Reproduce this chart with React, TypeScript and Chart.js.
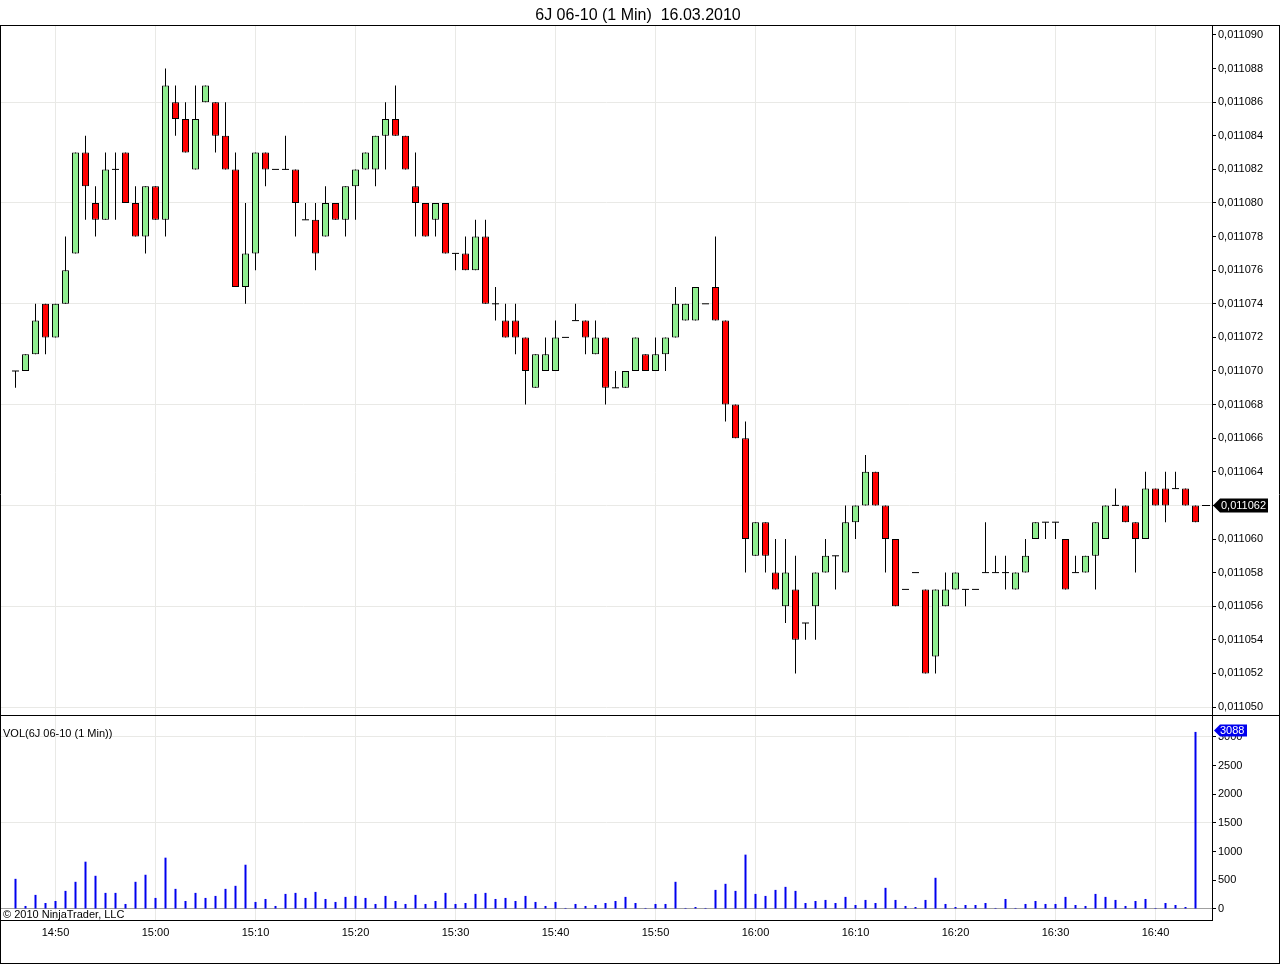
import React, { useEffect, useRef } from 'react';
import { Chart, registerables } from 'chart.js';

Chart.register(...registerables);

const FONT = '"Liberation Sans", Arial, sans-serif';

const chartTitle = '6J 06-10 (1 Min)  16.03.2010';
const volumeTitle = 'VOL(6J 06-10 (1 Min))';
const copyrightText = '\u00A9 2010 NinjaTrader, LLC';

const times = [
  '14:46', '14:47', '14:48', '14:49', '14:50', '14:51', '14:52', '14:53', '14:54', '14:55', '14:56', '14:57', '14:58', '14:59',
  '15:00', '15:01', '15:02', '15:03', '15:04', '15:05', '15:06', '15:07', '15:08', '15:09',
  '15:10', '15:11', '15:12', '15:13', '15:14', '15:15', '15:16', '15:17', '15:18', '15:19',
  '15:20', '15:21', '15:22', '15:23', '15:24', '15:25', '15:26', '15:27', '15:28', '15:29',
  '15:30', '15:31', '15:32', '15:33', '15:34', '15:35', '15:36', '15:37', '15:38', '15:39',
  '15:40', '15:41', '15:42', '15:43', '15:44', '15:45', '15:46', '15:47', '15:48', '15:49',
  '15:50', '15:51', '15:52', '15:53', '15:54', '15:55', '15:56', '15:57', '15:58', '15:59',
  '16:00', '16:01', '16:02', '16:03', '16:04', '16:05', '16:06', '16:07', '16:08', '16:09',
  '16:10', '16:11', '16:12', '16:13', '16:14', '16:15', '16:16', '16:17', '16:18', '16:19',
  '16:20', '16:21', '16:22', '16:23', '16:24', '16:25', '16:26', '16:27', '16:28', '16:29',
  '16:30', '16:31', '16:32', '16:33', '16:34', '16:35', '16:36', '16:37', '16:38', '16:39',
  '16:40', '16:41', '16:42', '16:43', '16:44',
];

const opens = [
  0.011070, 0.011070, 0.011071, 0.011074, 0.011072, 0.011074, 0.011077, 0.011083, 0.011080, 0.011079,
  0.011082, 0.011083, 0.011080, 0.011078, 0.011081, 0.011079, 0.011086, 0.011085, 0.011082, 0.011086,
  0.011086, 0.011084, 0.011082, 0.011075, 0.011077, 0.011083, 0.011082, 0.011082, 0.011082, 0.011079,
  0.011079, 0.011078, 0.011080, 0.011079, 0.011081, 0.011082, 0.011082, 0.011084, 0.011085, 0.011084,
  0.011081, 0.011080, 0.011079, 0.011080, 0.011077, 0.011077, 0.011076, 0.011078, 0.011074, 0.011073,
  0.011073, 0.011072, 0.011069, 0.011070, 0.011070, 0.011072, 0.011073, 0.011073, 0.011071, 0.011072,
  0.011069, 0.011069, 0.011070, 0.011071, 0.011070, 0.011071, 0.011072, 0.011073, 0.011073, 0.011074,
  0.011075, 0.011073, 0.011068, 0.011066, 0.011059, 0.011061, 0.011058, 0.011056, 0.011057, 0.011055,
  0.011056, 0.011058, 0.011059, 0.011058, 0.011061, 0.011062, 0.011064, 0.011062, 0.011060, 0.011057,
  0.011058, 0.011057, 0.011053, 0.011056, 0.011057, 0.011057, 0.011057, 0.011058, 0.011058, 0.011058,
  0.011057, 0.011058, 0.011060, 0.011061, 0.011061, 0.011060, 0.011058, 0.011058, 0.011059, 0.011060,
  0.011062, 0.011062, 0.011061, 0.011060, 0.011063, 0.011063, 0.011063, 0.011063, 0.011062,
];

const highs = [
  0.011070, 0.011071, 0.011074, 0.011074, 0.011074, 0.011078, 0.011083, 0.011084, 0.011081, 0.011083,
  0.011083, 0.011083, 0.011081, 0.011081, 0.011081, 0.011088, 0.011087, 0.011086, 0.011087, 0.011087,
  0.011086, 0.011086, 0.011083, 0.011080, 0.011083, 0.011083, 0.011082, 0.011084, 0.011082, 0.011080,
  0.011080, 0.011081, 0.011080, 0.011081, 0.011082, 0.011083, 0.011084, 0.011086, 0.011087, 0.011084,
  0.011083, 0.011080, 0.011080, 0.011080, 0.011077, 0.011078, 0.011079, 0.011079, 0.011075, 0.011074,
  0.011074, 0.011072, 0.011071, 0.011072, 0.011073, 0.011072, 0.011074, 0.011073, 0.011073, 0.011072,
  0.011070, 0.011070, 0.011072, 0.011071, 0.011072, 0.011072, 0.011075, 0.011074, 0.011075, 0.011074,
  0.011078, 0.011073, 0.011068, 0.011067, 0.011061, 0.011061, 0.011060, 0.011060, 0.011059, 0.011055,
  0.011058, 0.011060, 0.011059, 0.011062, 0.011062, 0.011065, 0.011064, 0.011062, 0.011060, 0.011057,
  0.011058, 0.011057, 0.011057, 0.011058, 0.011058, 0.011057, 0.011057, 0.011061, 0.011059, 0.011059,
  0.011058, 0.011060, 0.011061, 0.011061, 0.011061, 0.011060, 0.011059, 0.011059, 0.011061, 0.011062,
  0.011063, 0.011062, 0.011061, 0.011064, 0.011063, 0.011064, 0.011064, 0.011063, 0.011062,
];

const lows = [
  0.011069, 0.011070, 0.011071, 0.011071, 0.011072, 0.011074, 0.011077, 0.011079, 0.011078, 0.011079,
  0.011079, 0.011080, 0.011078, 0.011077, 0.011079, 0.011078, 0.011084, 0.011083, 0.011082, 0.011086,
  0.011083, 0.011082, 0.011075, 0.011074, 0.011076, 0.011081, 0.011082, 0.011082, 0.011078, 0.011079,
  0.011076, 0.011078, 0.011079, 0.011078, 0.011079, 0.011082, 0.011081, 0.011082, 0.011084, 0.011082,
  0.011078, 0.011078, 0.011078, 0.011077, 0.011076, 0.011076, 0.011076, 0.011074, 0.011073, 0.011072,
  0.011071, 0.011068, 0.011069, 0.011070, 0.011070, 0.011072, 0.011073, 0.011071, 0.011071, 0.011068,
  0.011069, 0.011069, 0.011070, 0.011070, 0.011070, 0.011070, 0.011072, 0.011073, 0.011073, 0.011074,
  0.011073, 0.011067, 0.011066, 0.011058, 0.011059, 0.011058, 0.011057, 0.011055, 0.011052, 0.011054,
  0.011054, 0.011058, 0.011057, 0.011058, 0.011060, 0.011062, 0.011062, 0.011058, 0.011056, 0.011057,
  0.011058, 0.011052, 0.011052, 0.011056, 0.011057, 0.011056, 0.011057, 0.011058, 0.011058, 0.011057,
  0.011057, 0.011058, 0.011060, 0.011060, 0.011060, 0.011057, 0.011058, 0.011058, 0.011057, 0.011060,
  0.011062, 0.011061, 0.011058, 0.011060, 0.011062, 0.011061, 0.011063, 0.011062, 0.011061,
];

const closes = [
  0.011070, 0.011071, 0.011073, 0.011072, 0.011074, 0.011076, 0.011083, 0.011081, 0.011079, 0.011082,
  0.011082, 0.011080, 0.011078, 0.011081, 0.011079, 0.011087, 0.011085, 0.011083, 0.011085, 0.011087,
  0.011084, 0.011082, 0.011075, 0.011077, 0.011083, 0.011082, 0.011082, 0.011082, 0.011080, 0.011079,
  0.011077, 0.011080, 0.011079, 0.011081, 0.011082, 0.011083, 0.011084, 0.011085, 0.011084, 0.011082,
  0.011080, 0.011078, 0.011080, 0.011077, 0.011077, 0.011076, 0.011078, 0.011074, 0.011074, 0.011072,
  0.011072, 0.011070, 0.011071, 0.011071, 0.011072, 0.011072, 0.011073, 0.011072, 0.011072, 0.011069,
  0.011069, 0.011070, 0.011072, 0.011070, 0.011071, 0.011072, 0.011074, 0.011074, 0.011075, 0.011074,
  0.011073, 0.011068, 0.011066, 0.011060, 0.011061, 0.011059, 0.011057, 0.011058, 0.011054, 0.011055,
  0.011058, 0.011059, 0.011059, 0.011061, 0.011062, 0.011064, 0.011062, 0.011060, 0.011056, 0.011057,
  0.011058, 0.011052, 0.011057, 0.011057, 0.011058, 0.011057, 0.011057, 0.011058, 0.011058, 0.011058,
  0.011058, 0.011059, 0.011061, 0.011061, 0.011061, 0.011057, 0.011058, 0.011059, 0.011061, 0.011062,
  0.011062, 0.011061, 0.011060, 0.011063, 0.011062, 0.011062, 0.011063, 0.011062, 0.011061,
];

const volumes = [
  526, 53, 246, 105, 140, 316, 474, 825, 579, 281,
  281, 88, 474, 597, 193, 895, 351, 140, 281, 193,
  228, 351, 404, 772, 123, 175, 53, 263, 281, 193,
  298, 175, 123, 211, 228, 193, 88, 228, 140, 88,
  246, 88, 140, 281, 88, 105, 263, 281, 175, 193,
  140, 228, 123, 53, 123, 18, 88, 53, 70, 105,
  140, 211, 105, 18, 88, 88, 474, 18, 35, 18,
  333, 439, 316, 948, 263, 228, 333, 386, 316, 105,
  140, 158, 105, 211, 70, 158, 105, 369, 158, 53,
  35, 158, 544, 88, 35, 70, 70, 105, 18, 175,
  18, 88, 140, 88, 88, 211, 70, 53, 263, 211,
  158, 53, 140, 175, 18, 105, 70, 35, 3088,
];

const timeTicks = ['14:50', '15:00', '15:10', '15:20', '15:30', '15:40', '15:50', '16:00', '16:10', '16:20', '16:30', '16:40'];

const priceTicks = [
  0.011050, 0.011052, 0.011054, 0.011056, 0.011058, 0.011060, 0.011062, 0.011064, 0.011066, 0.011068,
  0.011070, 0.011072, 0.011074, 0.011076, 0.011078, 0.011080, 0.011082, 0.011084, 0.011086, 0.011088, 0.011090,
];
const priceGridLines = [0.011050, 0.011056, 0.011062, 0.011068, 0.011074, 0.011080, 0.011086];

const volumeTicks = [0, 500, 1000, 1500, 2000, 2500, 3000];
const volumeGridLines = [1500, 3000];

const lastPriceMarker = 0.011062;

const GRID = '#e9e9e6';
const GREEN = '#90ee90';
const RED = '#ff0000';
const VOLBLUE = '#0000ee';

const toMin = (t: string) => {
  const [h, m] = t.split(':').map(Number);
  return h * 60 + m;
};
const near = (a: number, b: number) => Math.abs(a - b) < 1e-9;

export default function App() {
  const ref = useRef<HTMLCanvasElement>(null);

  useEffect(() => {
    document.body.style.margin = '0';
    const canvas = ref.current;
    if (!canvas) return;

    const xs = times.map(toMin);
    const X_MIN = xs[0] - 1.45;
    const X_MAX = X_MIN + 121.1;
    const P_MIN = 0.011049524;
    const P_MAX = 0.011090595;

    const wickData = xs.map((x, i) => ({ x, y: [lows[i], highs[i]] }));
    const bodyData: any[] = [];
    const dojiData: any[] = [];
    xs.forEach((x, i) => {
      if (near(opens[i], closes[i])) dojiData.push({ x, y: opens[i] });
      else bodyData.push({ x, y: [opens[i], closes[i]] });
    });
    const volData = xs.map((x, i) => ({ x, y: volumes[i] }));

    const decorations = {
      id: 'ninjaDecor',
      afterDraw(chart: any) {
        const ctx = chart.ctx;
        const yP = chart.scales.yP;
        const yV = chart.scales.yV;
        ctx.save();
        // title
        ctx.fillStyle = '#000';
        ctx.font = `16px ${FONT}`;
        ctx.textAlign = 'center';
        ctx.textBaseline = 'alphabetic';
        ctx.fillText(chartTitle, 638, 20);
        // frame
        ctx.strokeStyle = '#000';
        ctx.lineWidth = 1;
        ctx.beginPath();
        ctx.moveTo(0, 25.5); ctx.lineTo(1280, 25.5);
        ctx.moveTo(0.5, 25); ctx.lineTo(0.5, 964);
        ctx.moveTo(1279.5, 25); ctx.lineTo(1279.5, 964);
        ctx.moveTo(0, 963.5); ctx.lineTo(1280, 963.5);
        ctx.moveTo(0, 715.5); ctx.lineTo(1280, 715.5);
        ctx.stroke();
        // panel texts
        ctx.font = `11px ${FONT}`;
        ctx.textAlign = 'left';
        ctx.fillStyle = '#000';
        ctx.fillText(volumeTitle, 3, 737);
        ctx.fillText(copyrightText, 3, 918);
        // price marker
        const py = Math.round(yP.getPixelForValue(lastPriceMarker)) + 0.5;
        ctx.beginPath();
        ctx.moveTo(1202, py); ctx.lineTo(1210, py);
        ctx.stroke();
        ctx.fillStyle = '#000';
        ctx.beginPath();
        ctx.moveTo(1213, py);
        ctx.lineTo(1220, py - 7);
        ctx.lineTo(1268, py - 7);
        ctx.lineTo(1268, py + 7);
        ctx.lineTo(1220, py + 7);
        ctx.closePath();
        ctx.fill();
        ctx.fillStyle = '#fff';
        ctx.textBaseline = 'middle';
        ctx.fillText(lastPriceMarker.toFixed(6).replace('.', ','), 1221, py + 0.5);
        // volume marker
        const lastVol = volumes[volumes.length - 1];
        const vy = Math.round(yV.getPixelForValue(lastVol)) - 1.5;
        ctx.fillStyle = VOLBLUE;
        ctx.beginPath();
        ctx.moveTo(1214, vy);
        ctx.lineTo(1220, vy - 6);
        ctx.lineTo(1247, vy - 6);
        ctx.lineTo(1247, vy + 6);
        ctx.lineTo(1220, vy + 6);
        ctx.closePath();
        ctx.fill();
        ctx.fillStyle = '#fff';
        ctx.fillText(String(lastVol), 1220, vy + 0.5);
        ctx.restore();
      },
    };

    const tickFont = { size: 11, family: FONT };
    const zeroPad = (s: any) => {
      s.paddingLeft = 0;
      s.paddingRight = 0;
      s.paddingTop = 0;
      s.paddingBottom = 0;
    };

    const chart = new Chart(canvas, {
      type: 'bar',
      data: {
        datasets: [
          {
            type: 'bar',
            data: wickData as any,
            backgroundColor: '#000',
            borderWidth: 0,
            barThickness: 1,
            grouped: false,
            inflateAmount: 0,
            xAxisID: 'x',
            yAxisID: 'yP',
            order: 3,
          } as any,
          {
            type: 'bar',
            data: bodyData,
            backgroundColor: (c: any) => {
              const r = c.raw;
              return r && r.y[1] > r.y[0] ? GREEN : RED;
            },
            borderColor: '#000',
            borderWidth: 1,
            borderSkipped: false,
            barThickness: 7,
            grouped: false,
            inflateAmount: 0,
            xAxisID: 'x',
            yAxisID: 'yP',
            order: 2,
          } as any,
          {
            type: 'line',
            data: dojiData,
            showLine: false,
            pointStyle: 'line',
            pointRadius: 3.5,
            pointHoverRadius: 3.5,
            pointBorderColor: '#000',
            pointBorderWidth: 1,
            xAxisID: 'x',
            yAxisID: 'yP',
            order: 1,
          } as any,
          {
            type: 'bar',
            data: volData as any,
            backgroundColor: VOLBLUE,
            borderWidth: 0,
            barThickness: 2,
            grouped: false,
            inflateAmount: 0,
            xAxisID: 'x',
            yAxisID: 'yV',
            order: 4,
          } as any,
        ],
      },
      options: {
        animation: false,
        responsive: false,
        devicePixelRatio: 1,
        events: [],
        layout: { padding: { top: 25, left: 1, right: 1, bottom: 1 }, autoPadding: false },
        plugins: {
          legend: { display: false },
          tooltip: { enabled: false },
          title: { display: false },
        },
        scales: {
          x: {
            type: 'linear',
            position: 'bottom',
            min: X_MIN,
            max: X_MAX,
            offset: false,
            afterBuildTicks: (s: any) => {
              s.ticks = timeTicks.map((t) => ({ value: toMin(t) }));
            },
            afterFit: (s: any) => {
              s.height = 43;
              zeroPad(s);
            },
            grid: { color: GRID, offset: false, drawTicks: false, lineWidth: 1 },
            border: { display: true, color: '#000', width: 1 },
            ticks: {
              autoSkip: false,
              maxRotation: 0,
              padding: 6,
              color: '#000',
              font: tickFont,
              callback: (_v: any, i: number) => timeTicks[i] ?? '',
            },
          },
          yP: {
            type: 'linear',
            position: 'right',
            stack: 'panes',
            stackWeight: 690,
            min: P_MIN,
            max: P_MAX,
            afterBuildTicks: (s: any) => {
              s.ticks = priceTicks.map((v) => ({ value: v }));
            },
            afterFit: (s: any) => {
              s.width = 67;
              zeroPad(s);
            },
            grid: {
              color: (c: any) =>
                c.tick && priceGridLines.some((g) => near(g, c.tick.value)) ? GRID : 'rgba(0,0,0,0)',
              tickColor: '#000',
              tickLength: 4,
              drawTicks: true,
            },
            border: { display: true, color: '#000', width: 1 },
            ticks: {
              autoSkip: false,
              padding: 2,
              color: '#000',
              font: tickFont,
              callback: (v: any) => Number(v).toFixed(6).replace('.', ','),
            },
          },
          yV: {
            type: 'linear',
            position: 'right',
            stack: 'panes',
            stackWeight: 205,
            min: -192,
            max: 3383,
            afterBuildTicks: (s: any) => {
              s.ticks = volumeTicks.map((v) => ({ value: v }));
            },
            afterFit: (s: any) => {
              s.width = 67;
              zeroPad(s);
            },
            grid: {
              color: (c: any) => {
                if (!c.tick) return 'rgba(0,0,0,0)';
                if (c.tick.value === 0) return '#a0a0a0';
                return volumeGridLines.includes(c.tick.value) ? GRID : 'rgba(0,0,0,0)';
              },
              tickColor: '#000',
              tickLength: 4,
              drawTicks: true,
            },
            border: { display: true, color: '#000', width: 1 },
            ticks: {
              autoSkip: false,
              padding: 2,
              color: '#000',
              font: tickFont,
              callback: (v: any) => String(v),
            },
          },
        },
      } as any,
      plugins: [decorations],
    });

    return () => chart.destroy();
  }, []);

  return (
    <div style={{ position: 'absolute', left: 0, top: 0, background: '#fff' }}>
      <canvas ref={ref} width={1280} height={964} style={{ display: 'block' }} />
    </div>
  );
}
